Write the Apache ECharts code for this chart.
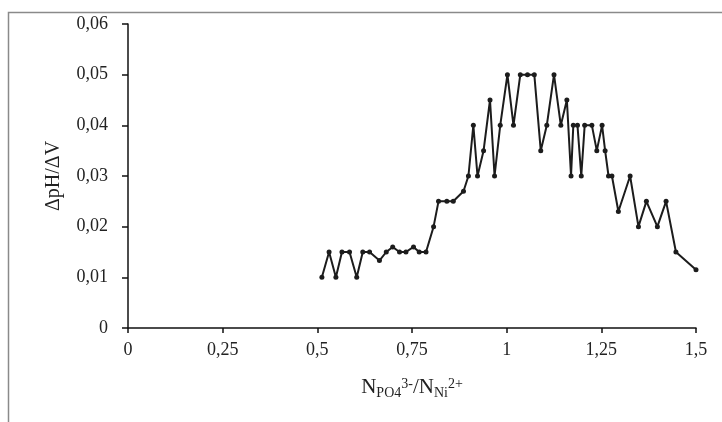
<!DOCTYPE html>
<html>
<head>
<meta charset="utf-8">
<script src="https://cdn.jsdelivr.net/npm/echarts@6/dist/echarts.min.js"></script>
<style>
  html, body { margin: 0; padding: 0; background: #fff; }
  #chart { width: 722px; height: 422px; }
</style>
</head>
<body>
<div id="chart"></div>
<script>
// N(PO4 3-)/N(Ni 2+) ratio
const ratio = [0.512, 0.531, 0.549, 0.565, 0.585, 0.604, 0.620, 0.638, 0.664, 0.682,
  0.699, 0.717, 0.734, 0.754, 0.769, 0.787, 0.807, 0.820, 0.842, 0.859,
  0.886, 0.899, 0.912, 0.923, 0.939, 0.956, 0.968, 0.983, 1.002, 1.018,
  1.036, 1.055, 1.073, 1.090, 1.106, 1.125, 1.143, 1.159, 1.170, 1.176,
  1.187, 1.197, 1.206, 1.225, 1.238, 1.252, 1.260, 1.269, 1.278, 1.295,
  1.326, 1.348, 1.369, 1.398, 1.421, 1.447, 1.500];
// dpH/dV
const dpH = [0.010, 0.015, 0.010, 0.015, 0.015, 0.010, 0.015, 0.015, 0.0133, 0.015,
  0.016, 0.015, 0.015, 0.016, 0.015, 0.015, 0.020, 0.025, 0.025, 0.025,
  0.027, 0.030, 0.040, 0.030, 0.035, 0.045, 0.030, 0.040, 0.050, 0.040,
  0.050, 0.050, 0.050, 0.035, 0.040, 0.050, 0.040, 0.045, 0.030, 0.040,
  0.040, 0.030, 0.040, 0.040, 0.035, 0.040, 0.035, 0.030, 0.030, 0.023,
  0.030, 0.020, 0.025, 0.020, 0.025, 0.015, 0.0115];

const xTickLabels = ['0', '0,25', '0,5', '0,75', '1', '1,25', '1,5'];
const yTickLabels = ['0', '0,01', '0,02', '0,03', '0,04', '0,05', '0,06'];

const serif = 'Liberation Serif';
let myChart = echarts.init(document.getElementById('chart'));

myChart.setOption({
  animation: false,
  backgroundColor: '#fff',
  graphic: [{
    type: 'rect',
    shape: { x: 8.5, y: 12.5, width: 900, height: 600 },
    style: { fill: 'none', stroke: '#8a8a8a', lineWidth: 1.5 },
    silent: true
  }],
  grid: { left: 128, right: 26, top: 24, bottom: 94 },
  xAxis: {
    type: 'value',
    min: 0, max: 1.5, interval: 0.25,
    splitLine: { show: false },
    axisLine: { onZero: false, lineStyle: { color: '#111', width: 1.5 } },
    axisTick: { show: true, length: 5, lineStyle: { color: '#111', width: 1.5 } },
    axisLabel: {
      margin: 13, color: '#222', fontFamily: serif, fontSize: 18,
      formatter: function (v, i) { return xTickLabels[i]; }
    },
    name: '{n|N}{sub|PO4}{sup|3-}{n|/N}{sub|Ni}{sup|2+}',
    nameLocation: 'middle',
    nameGap: 46,
    nameTextStyle: {
      color: '#222', fontFamily: serif,
      rich: {
        n: { fontFamily: serif, fontSize: 21, color: '#222', lineHeight: 26 },
        sub: { fontFamily: serif, fontSize: 14, color: '#222', lineHeight: 16, verticalAlign: 'bottom' },
        sup: { fontFamily: serif, fontSize: 14, color: '#222', lineHeight: 16, verticalAlign: 'middle', padding: [0, 0, 6, 0] }
      }
    }
  },
  yAxis: {
    type: 'value',
    min: 0, max: 0.06, interval: 0.01,
    splitLine: { show: false },
    axisLine: { show: true, lineStyle: { color: '#111', width: 1.5 } },
    axisTick: { show: true, length: 6, lineStyle: { color: '#111', width: 1.5 } },
    axisLabel: {
      margin: 20, color: '#222', fontFamily: serif, fontSize: 18,
      formatter: function (v, i) { return yTickLabels[i]; }
    },
    name: 'ΔpH/ΔV',
    nameLocation: 'middle',
    nameGap: 64,
    nameTextStyle: { color: '#222', fontFamily: serif, fontSize: 20 }
  },
  series: [{
    type: 'line',
    data: ratio.map((x, i) => [x, dpH[i]]),
    symbol: 'circle',
    symbolSize: 5,
    lineStyle: { color: '#1c1c1c', width: 2 },
    itemStyle: { color: '#1c1c1c' }
  }]
});
</script>
</body>
</html>
